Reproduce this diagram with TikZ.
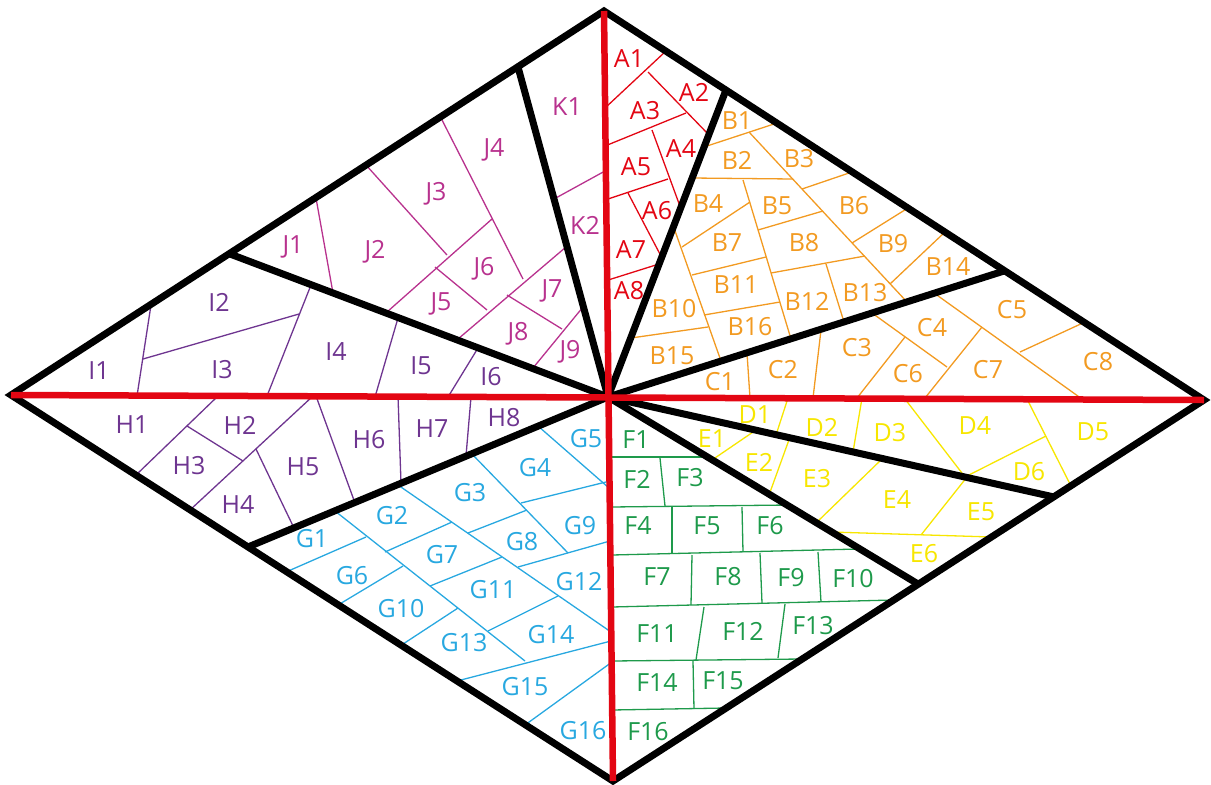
\documentclass[tikz,border=0pt]{standalone}
\usepackage{fontspec}
\setmainfont{Open Sans}
\definecolor{cred}{HTML}{E30613}
\definecolor{cmag}{HTML}{B8328E}
\definecolor{cpur}{HTML}{6E3590}
\definecolor{corg}{HTML}{F29A21}
\definecolor{cyel}{HTML}{F7E600}
\definecolor{cgrn}{HTML}{1E9A4B}
\definecolor{cblu}{HTML}{28A8E0}
\newcommand{\lb}[3]{\node[lbl,text=#1] (#2) at (#3) {#2};}
\begin{document}
\begin{tikzpicture}[x=1pt,y=-1pt,
  thinline/.style={line width=1.3pt},
  heavy/.style={line width=7pt,black,line join=miter},
  redline/.style={line width=6.5pt,cred},
  lbl/.style={font=\fontsize{25}{28}\selectfont,inner sep=0pt}]
\useasboundingbox (0,0) rectangle (1211,785);
% main points
\coordinate (T) at (604,11);
\coordinate (L) at (11,395);
\coordinate (R) at (1204,400);
\coordinate (Bt) at (613,781);
\coordinate (O) at (608,397);
\coordinate (eKJ) at (518,67);
\coordinate (eAB) at (726,90);
\coordinate (eBC) at (1004,271);
\coordinate (eDE) at (1054,497);
\coordinate (eEF) at (918,584);
\coordinate (eGH) at (248,547);
\coordinate (eIJ) at (230,254);

% A (red)
\begin{scope}[thinline,cred]
\draw (605,108)--(666,51);
\draw (648,72)--(709,135);
\draw (605,146)--(686,113);
\draw (652,130)--(681,209);
\draw (605,200)--(668,179);
\draw (628,193)--(662,258);
\draw (605,281)--(659,264);
\end{scope}
% K and J (magenta)
\begin{scope}[thinline,cmag]
\draw (554,199)--(605,171);
\draw (316,198)--(333,293);
\draw (366,165)--(447,255);
\draw (441,118)--(523,279);
\draw (387,312)--(492,219);
\draw (435,267)--(487,310);
\draw (458,339)--(566,247);
\draw (507,295)--(562,329);
\draw (533,368)--(583,307);
\end{scope}
% I and H (purple)
\begin{scope}[thinline,cpur]
\draw (151,305)--(137,396);
\draw (143,359)--(299,314);
\draw (311,285)--(267,396);
\draw (398,318)--(375,397);
\draw (478,348)--(448,397);
\draw (218,396)--(136,475);
\draw (187,426)--(243,461);
\draw (313,396)--(190,510);
\draw (256,449)--(294,528);
\draw (316,396)--(355,503);
\draw (398,396)--(401,483);
\draw (471,397)--(466,456);
\end{scope}
% G (blue)
\begin{scope}[thinline,cblu]
\draw (335,511)--(525,661);
\draw (398,485)--(611,632);
\draw (471,453)--(568,553);
\draw (538,426)--(609,488);
\draw (286,572)--(366,537);
\draw (338,605)--(403,566);
\draw (400,646)--(458,608);
\draw (457,681)--(611,641);
\draw (525,725)--(612,662);
\draw (385,552)--(452,522);
\draw (430,586)--(502,557);
\draw (488,631)--(558,596);
\draw (468,533)--(527,510);
\draw (518,567)--(610,541);
\draw (521,503)--(610,481);
\end{scope}
% F (green)
\begin{scope}[thinline,cgrn]
\draw (611,457)--(706,457);
\draw (660,458)--(665,506);
\draw (611,507)--(789,505);
\draw (672,507)--(672,553);
\draw (742,507)--(743,552);
\draw (612,555)--(859,549);
\draw (692,555)--(691,605);
\draw (760,553)--(762,603);
\draw (818,552)--(821,602);
\draw (612,607)--(894,600);
\draw (704,607)--(696,660);
\draw (785,604)--(778,658);
\draw (612,661)--(802,659);
\draw (693,661)--(694,709);
\draw (612,710)--(726,708);
\end{scope}
% D and E (yellow)
\begin{scope}[thinline,cyel]
\draw (712,460)--(756,430);
\draw (790,437)--(769,495);
\draw (883,458)--(816,523);
\draw (967,477)--(921,535);
\draw (831,532)--(992,537);
\draw (788,398)--(776,435);
\draw (862,398)--(853,452);
\draw (905,399)--(965,477);
\draw (965,477)--(1046,436);
\draw (1027,399)--(1071,486);
\end{scope}
% B and C (orange)
\begin{scope}[thinline,corg]
\draw (747,353)--(750,398);
\draw (821,330)--(813,398);
\draw (872,313)--(947,367);
\draw (905,337)--(857,398);
\draw (982,327)--(925,398);
\draw (934,293)--(1082,399);
\draw (1020,352)--(1085,322);
\draw (704,147)--(777,123);
\draw (749,132)--(907,302);
\draw (692,178)--(793,179);
\draw (802,189)--(852,172);
\draw (743,180)--(791,339);
\draw (682,247)--(750,202);
\draw (758,230)--(823,211);
\draw (852,243)--(908,208);
\draw (692,275)--(766,257);
\draw (674,228)--(721,361);
\draw (771,273)--(865,256);
\draw (704,315)--(780,302);
\draw (631,338)--(708,327);
\draw (826,264)--(844,322);
\draw (945,232)--(890,284);
\end{scope}

% black lines
\draw[heavy] (T)--(R)--(Bt)--(L)--cycle;
\foreach \e in {eKJ,eAB,eBC,eDE,eEF,eGH,eIJ}
  \draw[heavy] (O)--(\e);
% red lines
\draw[redline] (T)--(Bt);
\draw[redline] (L)--(R);

% labels
\lb{cred}{A1}{629,59}
\lb{cred}{A2}{694,92}
\lb{cred}{A3}{645,111}
\lb{cred}{A4}{681,149}
\lb{cred}{A5}{636,167}
\lb{cred}{A6}{657,211}
\lb{cred}{A7}{631,250}
\lb{cred}{A8}{629,291}
\lb{cmag}{K1}{567,107}
\lb{cmag}{K2}{585,225}
\lb{cmag}{J1}{293,247}
\lb{cmag}{J2}{375,252}
\lb{cmag}{J3}{436,194}
\lb{cmag}{J4}{494,150}
\lb{cmag}{J5}{441,304}
\lb{cmag}{J6}{484,269}
\lb{cmag}{J7}{552,291}
\lb{cmag}{J8}{518,334}
\lb{cmag}{J9}{570,352}
\lb{cpur}{I1}{99,371}
\lb{cpur}{I2}{219,302}
\lb{cpur}{I3}{222,370}
\lb{cpur}{I4}{336,352}
\lb{cpur}{I5}{421,366}
\lb{cpur}{I6}{491,377}
\lb{cpur}{H1}{132,425}
\lb{cpur}{H2}{240,425}
\lb{cpur}{H3}{189,466}
\lb{cpur}{H4}{238,505}
\lb{cpur}{H5}{303,467}
\lb{cpur}{H6}{369,440}
\lb{cpur}{H7}{432,429}
\lb{cpur}{H8}{504,418}
\lb{cblu}{G1}{312,539}
\lb{cblu}{G2}{392,516}
\lb{cblu}{G3}{470,493}
\lb{cblu}{G4}{535,468}
\lb{cblu}{G5}{586,439}
\lb{cblu}{G6}{352,576}
\lb{cblu}{G7}{442,555}
\lb{cblu}{G8}{522,542}
\lb{cblu}{G9}{580,526}
\lb{cblu}{G10}{401,609}
\lb{cblu}{G11}{493,590}
\lb{cblu}{G12}{579,582}
\lb{cblu}{G13}{464,643}
\lb{cblu}{G14}{551,635}
\lb{cblu}{G15}{525,687}
\lb{cblu}{G16}{583,731}
\lb{cgrn}{F1}{636,440}
\lb{cgrn}{F2}{637,479}
\lb{cgrn}{F3}{690,478}
\lb{cgrn}{F4}{638,526}
\lb{cgrn}{F5}{707,526}
\lb{cgrn}{F6}{770,526}
\lb{cgrn}{F7}{657,577}
\lb{cgrn}{F8}{728,577}
\lb{cgrn}{F9}{791,578}
\lb{cgrn}{F10}{853,579}
\lb{cgrn}{F11}{657,634}
\lb{cgrn}{F12}{743,631}
\lb{cgrn}{F13}{813,626}
\lb{cgrn}{F14}{657,683}
\lb{cgrn}{F15}{723,681}
\lb{cgrn}{F16}{648,732}
\lb{cyel}{E1}{712,439}
\lb{cyel}{E2}{759,462}
\lb{cyel}{E3}{817,479}
\lb{cyel}{E4}{897,500}
\lb{cyel}{E5}{981,512}
\lb{cyel}{E6}{924,554}
\lb{cyel}{D1}{755,415}
\lb{cyel}{D2}{822,427}
\lb{cyel}{D3}{890,433}
\lb{cyel}{D4}{975,426}
\lb{cyel}{D5}{1093,432}
\lb{cyel}{D6}{1029,472}
\lb{corg}{C1}{720,382}
\lb{corg}{C2}{783,370}
\lb{corg}{C3}{857,348}
\lb{corg}{C4}{932,328}
\lb{corg}{C5}{1012,310}
\lb{corg}{C6}{908,374}
\lb{corg}{C7}{988,370}
\lb{corg}{C8}{1098,362}
\lb{corg}{B1}{737,121}
\lb{corg}{B2}{737,160}
\lb{corg}{B3}{799,159}
\lb{corg}{B4}{708,204}
\lb{corg}{B5}{777,206}
\lb{corg}{B6}{854,206}
\lb{corg}{B7}{727,243}
\lb{corg}{B8}{804,243}
\lb{corg}{B9}{893,244}
\lb{corg}{B10}{674,309}
\lb{corg}{B11}{736,285}
\lb{corg}{B12}{807,301}
\lb{corg}{B13}{865,293}
\lb{corg}{B14}{948,267}
\lb{corg}{B15}{672,356}
\lb{corg}{B16}{750,327}
\end{tikzpicture}
\end{document}
